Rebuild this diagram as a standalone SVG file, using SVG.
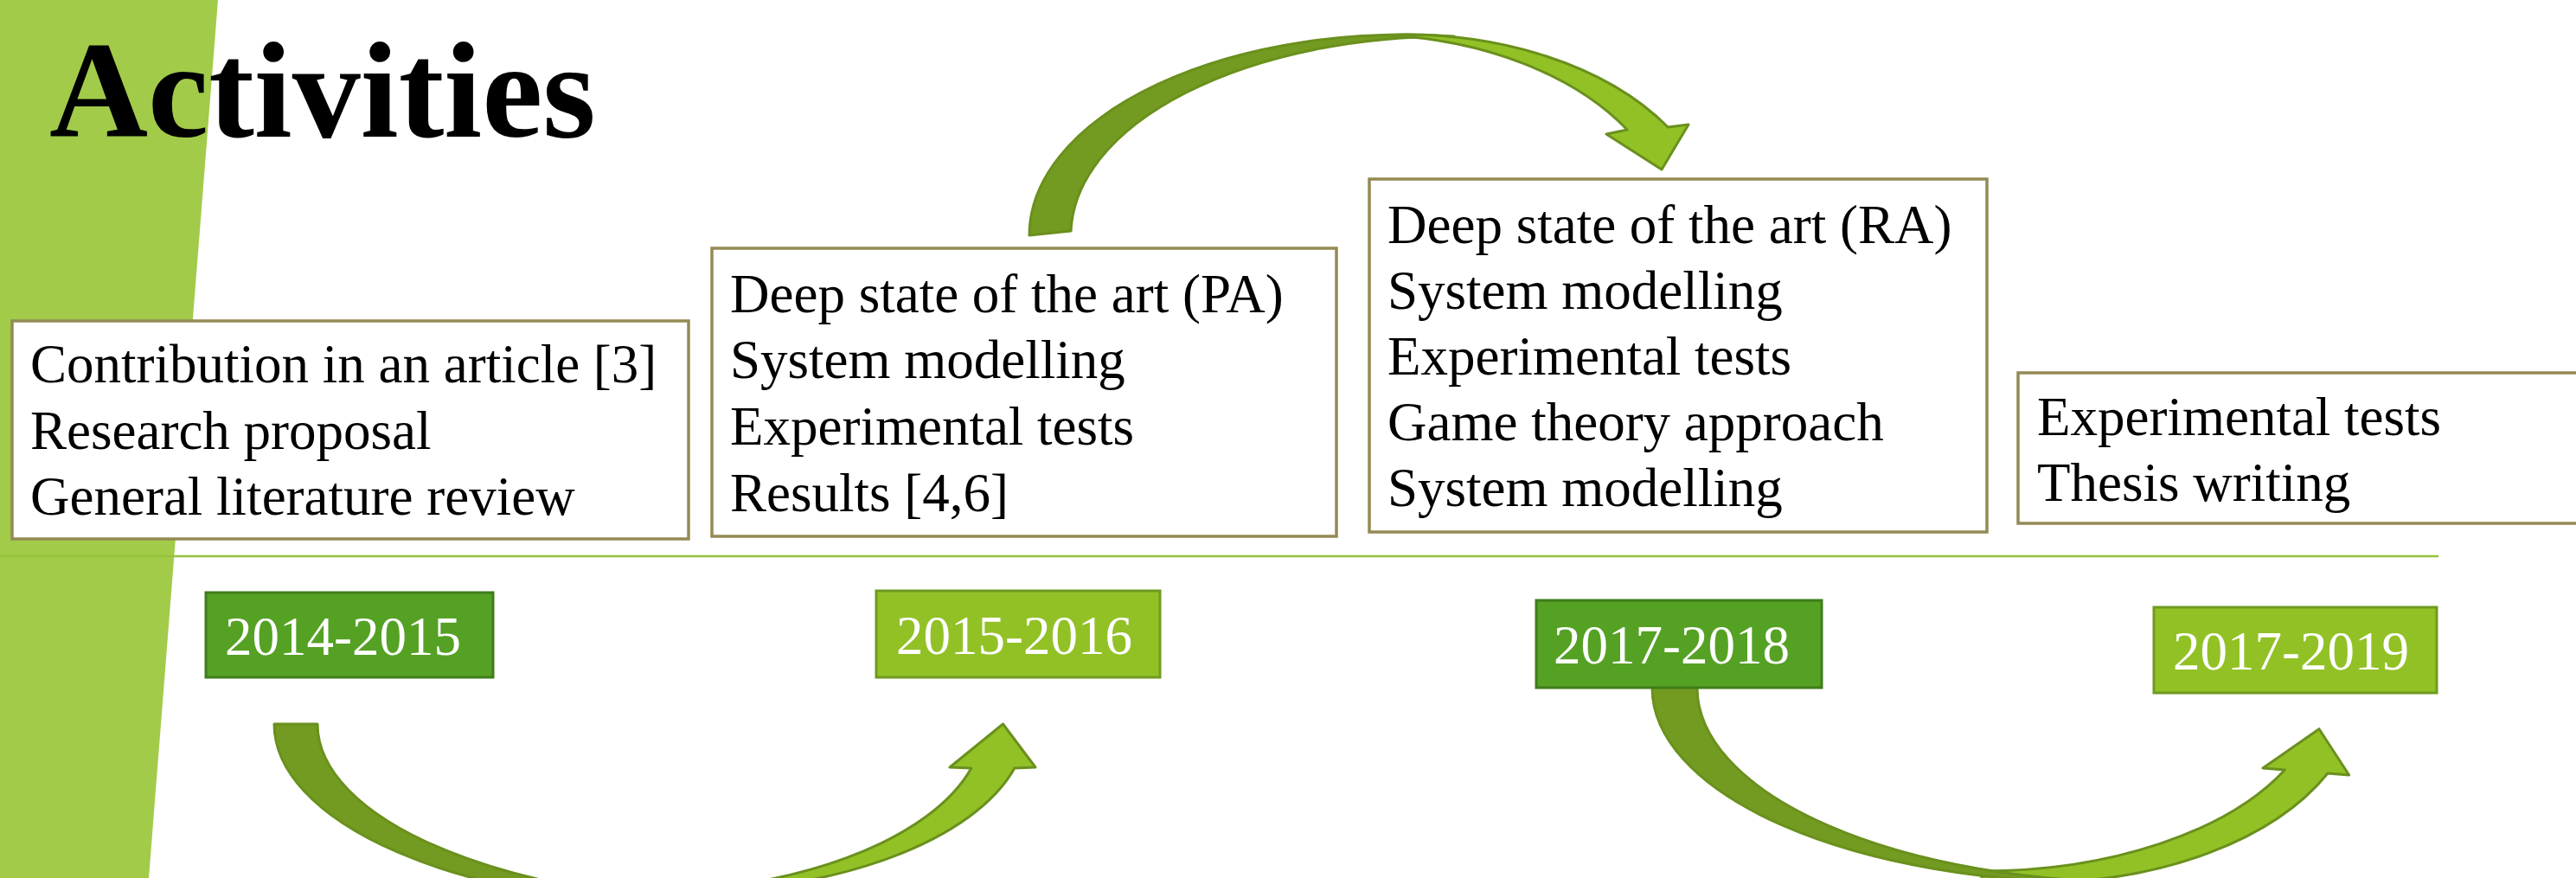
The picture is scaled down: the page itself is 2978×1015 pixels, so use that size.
<svg xmlns="http://www.w3.org/2000/svg" width="2978" height="1015" viewBox="0 0 2978 1015">
  <defs>
    <style>
      .band { fill: #A2CB4A; }
      .title { font-family: "Liberation Serif", "Times New Roman", serif; font-weight: bold; font-size: 158px; fill: #000; }
      .txt { font-family: "Liberation Serif", "Times New Roman", serif; font-size: 63px; fill: #000; }
      .yr { font-family: "Liberation Serif", "Times New Roman", serif; font-size: 63px; fill: #fff; }
      .box { fill: #fff; stroke: #948A54; stroke-width: 3.5; }
      .ydark { fill: #55A124; stroke: #3F7D1A; stroke-width: 3; }
      .ylight { fill: #92C126; stroke: #6F9A20; stroke-width: 3; }
      .back { fill: #739B21; stroke: #6A901D; stroke-width: 3; stroke-linejoin: round; }
      .front { fill: #92C126; stroke: #6A901D; stroke-width: 3; stroke-linejoin: round; }
      .timeline { stroke: #95C23A; stroke-width: 2.5; fill: none; }
    </style>
  </defs>

  <!-- slanted side band -->
  <polygon class="band" points="0,0 252,0 172,1015 0,1015"/>

  <!-- heading -->
  <text class="title" x="57" y="158">Activities</text>

  <!-- timeline rule -->
  <line class="timeline" x1="0" y1="643" x2="2819" y2="643"/>

  <!-- curved arrows between periods -->
  <g id="connectors">
    <!-- 2014-2015 to 2015-2016 (below the rule) -->
    <g id="arrow-2014-2016">
      <path class="back" d="M 317 837 A 490 210 0 0 0 807 1047 L 877 1044 A 510 207 0 0 1 367 837 Z"/>
      <path class="front" d="M 782 1032 A 405 195 0 0 0 1172.9 888 L 1197 887 L 1159.5 837 L 1098 887 L 1122.9 888 A 405 195 0 0 1 732 1032 Z"/>
    </g>
    <!-- PA activities to RA activities (above the boxes) -->
    <g id="arrow-pa-ra">
      <path class="back" d="M 1190 272 A 435 232 0 0 1 1681 41.9 A 440 230 0 0 0 1238.1 267 Z"/>
      <path class="front" d="M 1600 40.56 A 360 232 0 0 1 1928.3 147 L 1952 144 L 1921 196 L 1857 155 L 1881.2 150 A 360 232 0 0 0 1600 40.56 Z"/>
    </g>
    <!-- 2017-2018 to 2017-2019 (below the rule) -->
    <g id="arrow-2017-2019">
      <path class="front" d="M 2357 1020 A 372 225 0 0 0 2691 894 L 2715.7 896 L 2681 842.7 L 2616 888 L 2641.4 890 A 392 212 0 0 1 2291 1007 L 2291 1025 L 2357 1025 Z"/>
      <path class="back" d="M 1910 785 L 1910 795 A 515 225 0 0 0 2425 1020 L 2477 1020 A 515 225 0 0 1 1962 795 L 1962 785 Z"/>
    </g>
  </g>

  <!-- activity boxes -->
  <g id="activities-2014">
    <rect class="box" x="14" y="371" width="782" height="252"/>
    <text class="txt" x="35" y="442">Contribution in an article [3]</text>
    <text class="txt" x="35" y="519">Research proposal</text>
    <text class="txt" x="35" y="595">General literature review</text>
  </g>

  <g id="activities-2015">
    <rect class="box" x="823" y="287" width="722" height="333"/>
    <text class="txt" x="844" y="361">Deep state of the art (PA)</text>
    <text class="txt" x="844" y="437">System modelling</text>
    <text class="txt" x="844" y="514">Experimental tests</text>
    <text class="txt" x="844" y="591">Results [4,6]</text>
  </g>

  <g id="activities-2017">
    <rect class="box" x="1583" y="207" width="714" height="408"/>
    <text class="txt" x="1604" y="281">Deep state of the art (RA)</text>
    <text class="txt" x="1604" y="357">System modelling</text>
    <text class="txt" x="1604" y="433">Experimental tests</text>
    <text class="txt" x="1604" y="509">Game theory approach</text>
    <text class="txt" x="1604" y="585">System modelling</text>
  </g>

  <g id="activities-2019">
    <rect class="box" x="2333" y="431" width="700" height="174"/>
    <text class="txt" x="2355" y="503">Experimental tests</text>
    <text class="txt" x="2355" y="579">Thesis writing</text>
  </g>

  <!-- period labels -->
  <g id="year-2014-2015">
    <rect class="ydark" x="238" y="685" width="332" height="98"/>
    <text class="yr" x="260" y="757">2014-2015</text>
  </g>
  <g id="year-2015-2016">
    <rect class="ylight" x="1013" y="683" width="328" height="100"/>
    <text class="yr" x="1036" y="756">2015-2016</text>
  </g>
  <g id="year-2017-2018">
    <rect class="ydark" x="1776" y="694" width="330" height="101"/>
    <text class="yr" x="1796" y="767">2017-2018</text>
  </g>
  <g id="year-2017-2019">
    <rect class="ylight" x="2490" y="702" width="327" height="99"/>
    <text class="yr" x="2512" y="774">2017-2019</text>
  </g>
</svg>
